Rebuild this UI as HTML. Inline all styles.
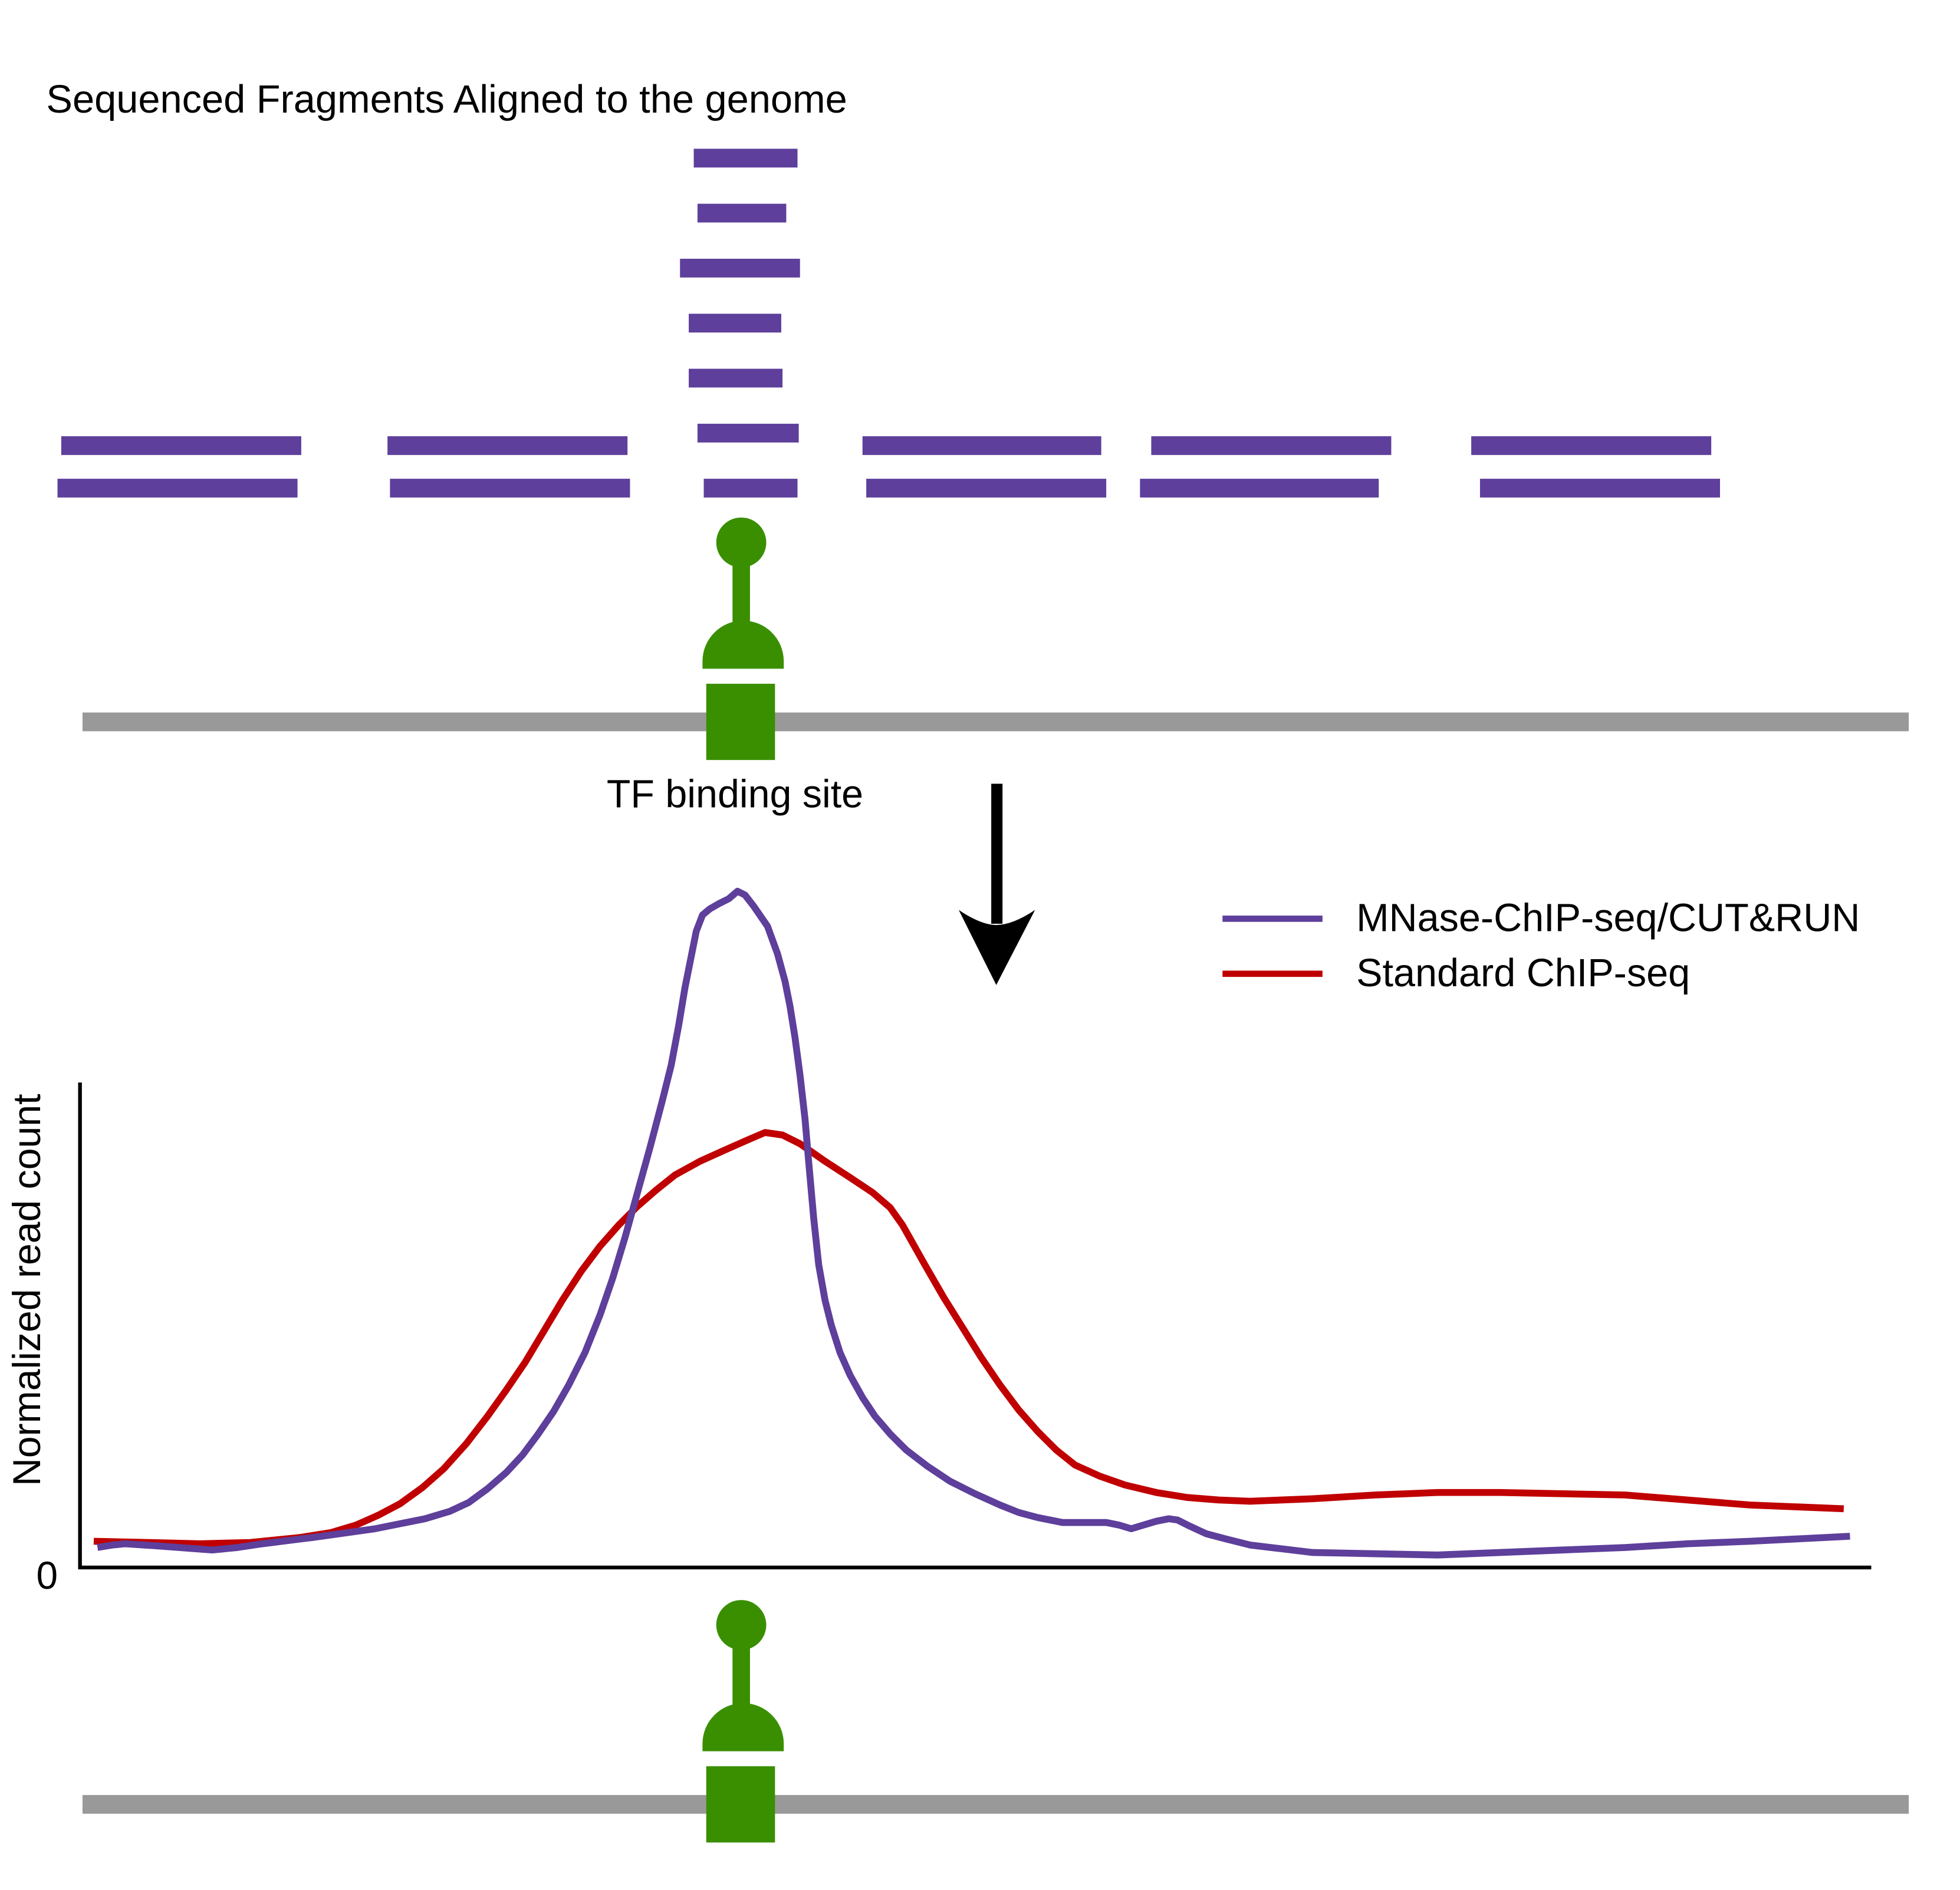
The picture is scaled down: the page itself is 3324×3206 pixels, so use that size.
<!DOCTYPE html>
<html><head><meta charset="utf-8"><style>html,body{margin:0;padding:0;background:#fff}svg{display:block}</style></head>
<body>
<svg width="3324" height="3206" viewBox="0 0 1568 1512" preserveAspectRatio="none" xmlns="http://www.w3.org/2000/svg" font-family="Liberation Sans, Arial, sans-serif">
<rect width="1568" height="1512" fill="#fff"/>
<text x="37" y="90" font-size="31.5" fill="#000">Sequenced Fragments Aligned to the genome</text>
<g fill="#5e3f9b">
<rect x="555" y="119" width="83" height="15"/>
<rect x="558" y="163" width="71" height="15"/>
<rect x="544" y="207" width="96" height="15"/>
<rect x="551" y="251" width="74" height="15"/>
<rect x="551" y="295" width="75" height="15"/>
<rect x="558" y="339" width="81" height="15"/>
<rect x="563" y="383" width="75" height="15"/>
<rect x="49" y="349" width="192" height="15"/>
<rect x="310" y="349" width="192" height="15"/>
<rect x="690" y="349" width="191" height="15"/>
<rect x="921" y="349" width="192" height="15"/>
<rect x="1177" y="349" width="192" height="15"/>
<rect x="46" y="383" width="192" height="15"/>
<rect x="312" y="383" width="192" height="15"/>
<rect x="693" y="383" width="192" height="15"/>
<rect x="912" y="383" width="191" height="15"/>
<rect x="1184" y="383" width="192" height="15"/>
</g>
<rect x="66" y="570" width="1461" height="15" fill="#999"/>
<g fill="#3a8f00">
<circle cx="593" cy="434" r="20"/>
<rect x="586" y="434" width="14" height="66"/>
<path d="M562,535 L562,529 A32,32 0 0 1 627,529 L627,535 Z"/>
<rect x="565" y="547" width="55" height="61"/>
</g>
<text x="588" y="646" font-size="31.3" text-anchor="middle">TF binding site</text>
<rect x="793" y="627" width="9" height="112" fill="#000"/>
<path d="M767,728 Q785,740 797,740 Q810,740 828,728 L797,788 Z" fill="#000"/>
<line x1="978" y1="735" x2="1058" y2="735" stroke="#5e3f9b" stroke-width="5"/>
<text x="1085" y="745" font-size="31.4">MNase-ChIP-seq/CUT&amp;RUN</text>
<line x1="978" y1="779" x2="1058" y2="779" stroke="#c00000" stroke-width="5"/>
<text x="1085" y="789" font-size="31.4">Standard ChIP-seq</text>
<path d="M64,866 L64,1254 L1497,1254" fill="none" stroke="#000" stroke-width="3"/>
<text x="29" y="1271" font-size="31">0</text>
<text transform="translate(32,1032) rotate(-90)" font-size="31.2" text-anchor="middle">Normalized read count</text>
<polyline fill="none" stroke="#c00000" stroke-width="5.5" stroke-linejoin="round" points="75,1233 120,1234 160,1235 200,1234 240,1230 265,1226 285,1220 303,1212 320,1203 338,1190 355,1175 373,1155 390,1133 405,1112 420,1090 435,1065 450,1040 465,1017 480,997 495,980 510,965 525,952 540,940 560,929 580,920 598,912 612,906 626,908 640,915 660,929 680,942 698,954 712,966 722,980 740,1012 755,1038 770,1062 785,1086 800,1108 815,1128 830,1145 845,1160 860,1172 880,1181 900,1188 925,1194 950,1198 975,1200 1000,1201 1050,1199 1100,1196 1150,1194 1200,1194 1250,1195 1300,1196 1350,1200 1400,1204 1475,1207"/>
<polyline fill="none" stroke="#5e3f9b" stroke-width="5.5" stroke-linejoin="round" points="78,1238 90,1236 100,1235 130,1237 170,1240 190,1238 210,1235 250,1230 300,1223 340,1215 360,1209 375,1202 390,1191 405,1178 418,1164 430,1148 443,1129 455,1108 468,1082 480,1052 490,1023 500,990 510,954 520,918 530,880 537,852 543,820 548,790 553,765 557,745 562,732 568,727 575,723 583,719 590,713 596,716 603,725 614,741 622,763 628,785 632,805 636,830 640,860 644,895 647,930 651,975 655,1012 660,1040 665,1060 672,1082 680,1100 690,1118 700,1133 712,1147 725,1160 742,1173 760,1185 780,1195 800,1204 815,1210 830,1214 840,1216 850,1218 870,1218 885,1218 895,1220 905,1223 915,1220 925,1217 935,1215 942,1216 952,1221 965,1227 980,1231 1000,1236 1025,1239 1050,1242 1100,1243 1150,1244 1200,1242 1250,1240 1300,1238 1350,1235 1400,1233 1480,1229"/>
<rect x="66" y="1436" width="1461" height="15" fill="#999"/>
<g fill="#3a8f00">
<circle cx="593" cy="1300" r="20"/>
<rect x="586" y="1300" width="14" height="66"/>
<path d="M562,1401 L562,1395 A32,32 0 0 1 627,1395 L627,1401 Z"/>
<rect x="565" y="1413" width="55" height="61"/>
</g>
</svg>
</body></html>
